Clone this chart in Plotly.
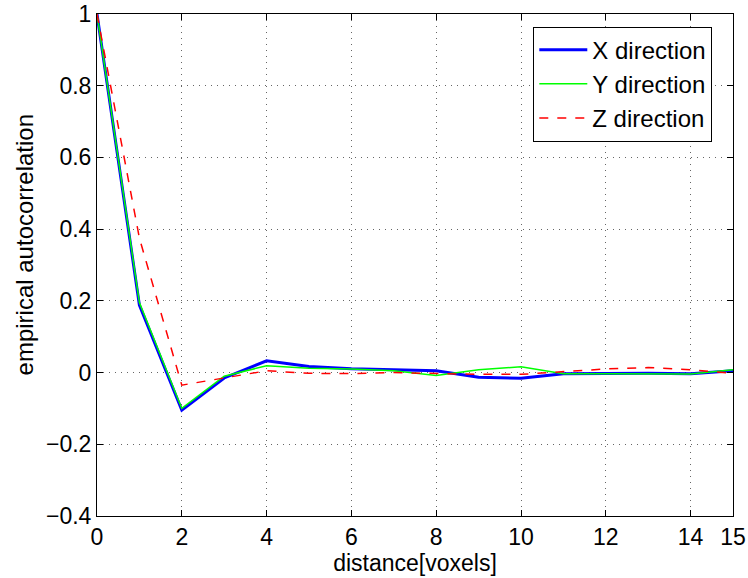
import plotly.graph_objects as go

distance = list(range(16))
x_dir = [1.0, 0.188, -0.105, -0.015, 0.033, 0.017, 0.011, 0.007, 0.005, -0.013, -0.016, -0.003, -0.002, -0.002, -0.003, 0.005]
y_dir = [1.0, 0.195, -0.100, -0.010, 0.019, 0.012, 0.010, 0.005, -0.008, 0.008, 0.016, -0.003, -0.003, -0.003, -0.004, 0.008]
z_dir = [1.0, 0.375, -0.035, -0.015, 0.005, -0.002, -0.003, 0.000, -0.003, -0.005, -0.005, 0.003, 0.010, 0.014, 0.008, -0.002]

x_ticks = [0, 2, 4, 6, 8, 10, 12, 14, 15]
y_ticks = [-0.4, -0.2, 0, 0.2, 0.4, 0.6, 0.8, 1]

FONT = "Liberation Sans, Arial, Helvetica, sans-serif"

fig = go.Figure()
fig.add_trace(go.Scatter(x=distance, y=x_dir, mode="lines", name="X direction",
                         line=dict(color="#0000ff", width=3)))
fig.add_trace(go.Scatter(x=distance, y=y_dir, mode="lines", name="Y direction",
                         line=dict(color="#00ff00", width=1.5)))
fig.add_trace(go.Scatter(x=distance, y=z_dir, mode="lines", name="Z direction",
                         line=dict(color="#ff0000", width=1.5, dash="dash")))

axis_common = dict(
    showline=True, linecolor="black", linewidth=1, mirror="ticks",
    ticks="inside", ticklen=6, tickcolor="black", tickwidth=1,
    showgrid=True, gridcolor="#666666", gridwidth=1, griddash="1px,5px",
    zeroline=False, tickfont=dict(family=FONT, size=23, color="black"),
    automargin=False,
)

fig.update_xaxes(range=[0, 15], tickvals=x_ticks, ticktext=[str(v) for v in x_ticks],
                 title=dict(text="distance[voxels]", font=dict(family=FONT, size=23, color="black"), standoff=0),
                 **axis_common)
fig.update_yaxes(range=[-0.4, 1], tickvals=y_ticks,
                 ticktext=["\u22120.4", "\u22120.2", "0", "0.2", "0.4", "0.6", "0.8", "1"],
                 **axis_common)

fig.add_annotation(text="empirical autocorrelation", textangle=-90,
                   xref="paper", yref="paper", x=-0.114, y=0.54,
                   xanchor="center", yanchor="middle", showarrow=False,
                   font=dict(family=FONT, size=24, color="black"))

fig.update_layout(
    width=748, height=578,
    margin=dict(l=97, r=15, t=14, b=62),
    plot_bgcolor="white", paper_bgcolor="white",
    font=dict(family=FONT, color="black"),
    legend=dict(x=0.686, y=0.975, xanchor="left", yanchor="top",
                bgcolor="white", bordercolor="black", borderwidth=1,
                font=dict(family=FONT, size=24, color="black"),
                itemwidth=48, tracegroupgap=0),
)

fig.write_html("out.html", config={"displayModeBar": False},
               post_script="document.body.style.margin='0';")
